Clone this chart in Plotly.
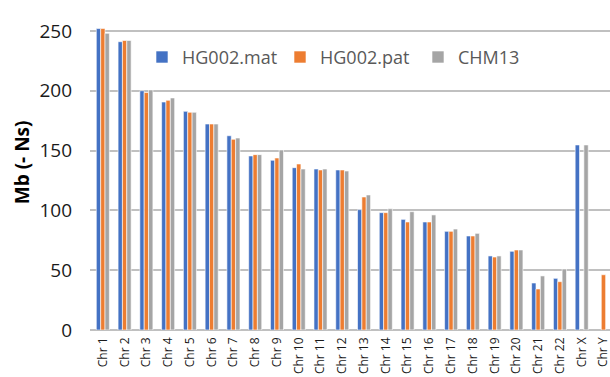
import plotly.graph_objects as go

chromosomes = ["Chr 1", "Chr 2", "Chr 3", "Chr 4", "Chr 5", "Chr 6", "Chr 7", "Chr 8",
               "Chr 9", "Chr 10", "Chr 11", "Chr 12", "Chr 13", "Chr 14", "Chr 15", "Chr 16",
               "Chr 17", "Chr 18", "Chr 19", "Chr 20", "Chr 21", "Chr 22", "Chr X", "Chr Y"]
hg002_mat = [252, 241, 200, 190.6, 182.8, 172.2, 162.4, 145.5, 141.9, 135.7, 134.6, 133.8,
             100.6, 98.1, 92.5, 90.3, 82.5, 78.6, 61.9, 65.8, 39.3, 43.2, 154.7, None]
hg002_pat = [252, 242, 198.5, 192, 182, 172.2, 159.4, 146.6, 143.8, 138.8, 133.8, 133.8,
             111.2, 98.1, 90.3, 90.3, 82.5, 78.6, 61.0, 66.9, 34.3, 40.4, None, 46.2]
chm13 = [248, 242, 200.7, 194, 182, 172.2, 160.5, 146.6, 150.5, 134.6, 134.6, 132.9,
         112.9, 101.4, 98.9, 96.2, 84.4, 80.8, 61.9, 66.9, 45.2, 51, 154.7, None]
y_ticks = [0, 50, 100, 150, 200, 250]

series = [("HG002.mat", hg002_mat, "#4472C4"),
          ("HG002.pat", hg002_pat, "#ED7D31"),
          ("CHM13", chm13, "#A5A5A5")]

fig = go.Figure()
for name, vals, col in series:
    fig.add_trace(go.Bar(x=chromosomes, y=vals, name=name,
                         marker=dict(color=col, line=dict(color="white", width=0.6))))

fig.update_layout(
    width=610, height=377,
    margin=dict(l=90, r=0, t=27, b=47),
    paper_bgcolor="white", plot_bgcolor="white",
    barmode="group", bargap=0.4, bargroupgap=0,
    font=dict(family="Open Sans, Lato, sans-serif", color="#1a1a1a"),
    legend=dict(orientation="h", x=0.1, y=0.90, xanchor="left", yanchor="middle",
                font=dict(size=18, color="#595959"), bgcolor="rgba(0,0,0,0)",
                itemwidth=30, entrywidth=93, entrywidthmode="pixels"),
    xaxis=dict(range=[-0.59, 23.3], tickangle=-90, tickfont=dict(size=12, color="#1a1a1a"),
               showline=False, ticks="", showgrid=False, ticklabelstandoff=4,
               automargin=False),
    yaxis=dict(range=[0, 253.3], tickvals=y_ticks,
               tickfont=dict(size=19, color="#1a1a1a"), ticklabelstandoff=17,
               showgrid=True, gridcolor="#c0c0c0", gridwidth=2, zeroline=True,
               zerolinecolor="#c0c0c0", zerolinewidth=2, ticks="", ticklen=0,
               automargin=False),
    annotations=[dict(text="<b>Mb (- Ns)</b>", textangle=-90, xref="paper", yref="paper",
                      x=-0.132, y=0.555, xanchor="center", yanchor="middle", showarrow=False,
                      font=dict(size=19, color="#000000"))],
)

fig.write_html("out.html")
